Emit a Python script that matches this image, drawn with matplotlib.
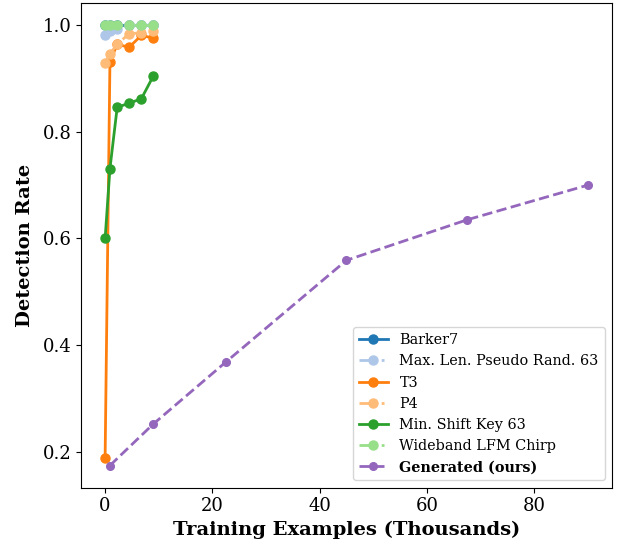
import numpy as np
import matplotlib.pyplot as plt

plt.rcParams['font.family'] = 'DejaVu Serif'

# training examples (thousands)
x_base = [0, 0.9, 2.25, 4.5, 6.75, 9]
x_gen = [0.9, 9, 22.5, 45, 67.5, 90]

barker7 = [1.0, 1.0, 1.0, 1.0, 1.0, 1.0]
max_len = [0.981, 0.990, 0.994, 1.0, 1.0, 1.0]
t3 = [0.189, 0.932, 0.964, 0.959, 0.981, 0.976]
p4 = [0.930, 0.946, 0.965, 0.984, 0.986, 0.989]
msk = [0.600, 0.731, 0.846, 0.854, 0.862, 0.905]
lfm = [1.0, 1.0, 1.0, 1.0, 1.0, 1.0]
generated = [0.174, 0.252, 0.368, 0.559, 0.635, 0.700]

fig = plt.figure(figsize=(6.23, 5.49), dpi=100)
ax = fig.add_subplot(111)
fig.subplots_adjust(left=0.13, right=0.982, top=0.994, bottom=0.112)

ax.plot(x_base, barker7, '-o', color='#1f77b4', lw=2, ms=6.5, label='Barker7')
ax.plot(x_base, max_len, '-.o', color='#aec7e8', lw=2, ms=6.5, label='Max. Len. Pseudo Rand. 63')
ax.plot(x_base, t3, '-o', color='#ff7f0e', lw=2, ms=6.5, label='T3')
ax.plot(x_base, p4, '-.o', color='#ffbb78', lw=2, ms=6.5, label='P4')
ax.plot(x_base, msk, '-o', color='#2ca02c', lw=2, ms=6.5, label='Min. Shift Key 63')
ax.plot(x_base, lfm, '-.o', color='#98df8a', lw=2, ms=6.5, label='Wideband LFM Chirp')
ax.plot(x_gen, generated, '--o', color='#9467bd', lw=2, ms=5.5, label='Generated (ours)')

ax.set_xlabel('Training Examples (Thousands)', fontsize=14, fontweight='bold')
ax.set_ylabel('Detection Rate', fontsize=14, fontweight='bold', labelpad=6)
ax.tick_params(labelsize=13)
ax.set_yticks([0.2, 0.4, 0.6, 0.8, 1.0])

leg = ax.legend(loc='lower right', fontsize=10.4)
leg.get_texts()[-1].set_fontweight('bold')

fig.savefig('out.png', dpi=100)
